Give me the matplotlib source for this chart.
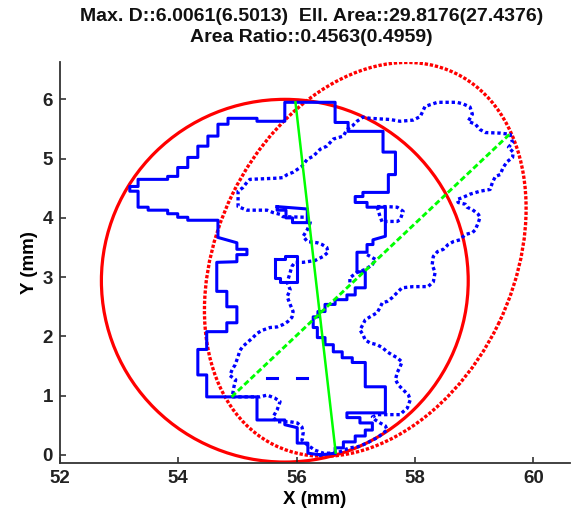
import matplotlib
matplotlib.use('Agg')
import matplotlib.pyplot as plt
from matplotlib.patches import Ellipse

plt.rcParams['font.family'] = ['Liberation Sans', 'DejaVu Sans']
plt.rcParams['font.weight'] = 'bold'

# outline of region 1 (solid), mm
c1_x = [56.40, 56.19, 56.19, 56.01, 56.01, 55.80, 55.80, 55.33, 55.33, 54.48,
        54.48, 54.33, 54.33, 54.48, 54.48, 54.82, 54.82, 54.99, 54.99, 54.82,
        54.82, 54.65, 54.65, 54.99, 54.99, 55.16, 55.16, 54.99, 54.99, 54.67,
        54.67, 54.16, 54.16, 53.99, 53.99, 53.82, 53.82, 53.49, 53.49, 53.32,
        53.32, 53.18, 53.18, 53.32, 53.32, 53.82, 53.82, 53.99, 53.99, 54.16,
        54.16, 54.33, 54.33, 54.50, 54.50, 54.67, 54.67, 54.84, 54.84, 55.33,
        55.33, 55.80, 55.80, 56.65, 56.65, 56.87, 56.87, 57.46, 57.46, 57.67,
        57.67, 57.55, 57.55, 57.12, 57.12, 56.99, 56.99, 57.19, 57.19, 57.50,
        57.50, 57.29, 57.29, 57.19, 57.19, 57.02, 57.02, 57.16, 57.16, 56.99,
        56.99, 56.85, 56.85, 56.65, 56.65, 56.48, 56.48, 56.36, 56.36, 56.28,
        56.28, 56.35, 56.35, 56.48, 56.48, 56.62, 56.62, 56.77, 56.77, 56.94,
        56.94, 57.16, 57.16, 57.50, 57.50, 56.85, 56.85, 57.07, 57.07, 57.28,
        57.28, 57.16, 57.16, 56.99, 56.99, 56.79, 56.79, 56.65, 56.65, 56.40]
c1_y = [0.00, 0.03, 0.20, 0.20, 0.46, 0.51, 0.59, 0.59, 0.98, 0.98,
        1.35, 1.35, 1.78, 1.78, 2.08, 2.08, 2.23, 2.23, 2.50, 2.50,
        2.76, 2.76, 3.25, 3.26, 3.38, 3.38, 3.47, 3.47, 3.58, 3.67,
        3.96, 3.96, 4.01, 4.01, 4.07, 4.07, 4.13, 4.13, 4.18, 4.18,
        4.45, 4.45, 4.53, 4.53, 4.65, 4.65, 4.70, 4.70, 4.85, 4.85,
        5.02, 5.02, 5.21, 5.21, 5.38, 5.38, 5.58, 5.58, 5.68, 5.68,
        5.63, 5.63, 5.95, 5.95, 5.61, 5.61, 5.46, 5.46, 5.11, 5.11,
        4.73, 4.73, 4.43, 4.43, 4.36, 4.36, 4.26, 4.26, 4.18, 4.18,
        3.69, 3.63, 3.55, 3.55, 3.42, 3.42, 3.09, 3.09, 2.82, 2.82,
        2.70, 2.70, 2.62, 2.62, 2.54, 2.54, 2.42, 2.42, 2.33, 2.33,
        2.15, 2.15, 1.98, 1.98, 1.86, 1.86, 1.74, 1.74, 1.64, 1.64,
        1.56, 1.56, 1.15, 1.15, 0.71, 0.71, 0.63, 0.63, 0.54, 0.54,
        0.42, 0.42, 0.32, 0.32, 0.22, 0.22, 0.12, 0.12, 0.03, 0.00]

# holes / small pieces of region 1
h1_x = [55.67, 56.18, 56.18, 55.93, 55.93, 55.82, 55.82, 55.67, 55.67]
h1_y = [4.19, 4.15, 3.92, 3.92, 4.00, 4.00, 4.13, 4.13, 4.19]
h2_x = [55.63, 55.80, 55.80, 56.01, 56.01, 55.72, 55.72, 55.63, 55.63]
h2_y = [3.30, 3.30, 3.35, 3.35, 2.91, 2.91, 2.99, 2.99, 3.30]
d1_x = [55.50, 55.67]
d2_x = [56.01, 56.18]
d_y = [1.30, 1.30]

# outline of region 2 (dotted), mm
c2_x = [54.91, 55.16, 55.38, 55.50, 55.63, 55.72, 55.67, 55.60, 55.67, 55.89,
        56.01, 56.09, 56.11, 56.09, 56.18, 56.31, 56.45, 56.68, 56.79, 56.90,
        57.04, 57.19, 57.28, 57.38, 57.46, 57.53, 57.50, 57.41, 57.33, 57.28,
        57.36, 57.75, 57.80, 57.87, 57.92, 57.89, 57.83, 57.72, 57.67, 57.70,
        57.75, 57.78, 57.70, 57.61, 57.53, 57.45, 57.36, 57.24, 57.16, 57.12,
        57.07, 57.12, 57.16, 57.24, 57.36, 57.41, 57.45, 57.53, 57.61, 57.70,
        57.78, 57.97, 58.22, 58.31, 58.34, 58.29, 58.31, 58.38, 58.48, 58.56,
        58.65, 58.76, 58.85, 58.97, 59.02, 59.07, 59.10, 59.07, 58.97, 58.88,
        58.85, 58.73, 58.71, 58.80, 58.93, 59.10, 59.27, 59.31, 59.36, 59.44,
        59.49, 59.56, 59.65, 59.66, 59.58, 59.65, 59.61, 59.44, 59.19, 59.10,
        59.02, 58.90, 58.97, 58.93, 58.82, 58.71, 58.38, 58.17, 58.09, 57.97,
        57.75, 57.58, 57.24, 57.12, 57.02, 56.94, 56.85, 56.79, 56.62, 56.51,
        56.40, 56.28, 56.18, 56.09, 55.94, 55.84, 55.77, 55.67, 55.21, 55.16,
        55.09, 55.01, 55.01, 55.16, 55.50, 55.60, 55.72, 55.77, 56.18, 56.23,
        56.18, 56.11, 56.18, 56.35, 56.43, 56.51, 56.53, 56.45, 56.31, 56.11,
        55.97, 55.92, 55.89, 55.84, 55.89, 55.84, 55.89, 55.94, 55.92, 55.85,
        55.77, 55.67, 55.55, 55.41, 55.33, 55.26, 55.18, 55.09, 55.04, 55.01,
        54.96, 54.91, 54.87, 54.97, 54.94, 54.91]
c2_y = [0.98, 0.98, 0.98, 1.01, 0.96, 0.90, 0.76, 0.64, 0.56, 0.56,
        0.54, 0.47, 0.37, 0.25, 0.17, 0.08, 0.03, 0.03, 0.08, 0.12,
        0.14, 0.20, 0.25, 0.30, 0.37, 0.42, 0.49, 0.54, 0.59, 0.64,
        0.68, 0.68, 0.73, 0.79, 0.93, 1.01, 1.07, 1.18, 1.27, 1.39,
        1.49, 1.57, 1.64, 1.69, 1.74, 1.81, 1.86, 1.89, 1.94, 2.03,
        2.11, 2.20, 2.28, 2.33, 2.40, 2.49, 2.57, 2.59, 2.65, 2.74,
        2.82, 2.84, 2.84, 2.92, 3.08, 3.21, 3.35, 3.43, 3.47, 3.55,
        3.60, 3.63, 3.72, 3.75, 3.80, 3.92, 4.01, 4.06, 4.14, 4.18,
        4.23, 4.26, 4.31, 4.34, 4.40, 4.45, 4.48, 4.60, 4.70, 4.73,
        4.85, 4.95, 5.02, 5.11, 5.19, 5.27, 5.41, 5.43, 5.44, 5.49,
        5.58, 5.63, 5.75, 5.87, 5.92, 5.95, 5.95, 5.88, 5.71, 5.65,
        5.63, 5.66, 5.68, 5.70, 5.63, 5.55, 5.49, 5.38, 5.33, 5.21,
        5.16, 5.04, 4.99, 4.87, 4.77, 4.73, 4.68, 4.67, 4.65, 4.60,
        4.51, 4.45, 4.19, 4.13, 4.13, 4.09, 4.06, 4.02, 4.01, 3.92,
        3.80, 3.69, 3.60, 3.58, 3.55, 3.50, 3.42, 3.35, 3.28, 3.25,
        3.25, 3.18, 3.08, 2.91, 2.79, 2.67, 2.54, 2.42, 2.32, 2.25,
        2.20, 2.16, 2.15, 2.10, 2.05, 1.98, 1.91, 1.83, 1.76, 1.66,
        1.52, 1.44, 1.34, 1.27, 1.15, 0.98]

h3_x = [57.36, 57.53, 57.70, 57.80, 57.75, 57.70, 57.53, 57.45, 57.41, 57.36]
h3_y = [4.19, 4.19, 4.18, 4.11, 3.97, 3.94, 3.94, 3.92, 4.02, 4.19]
p3_x = [57.19, 57.33, 57.28, 57.16, 57.02, 56.90, 56.90]
p3_y = [3.38, 3.30, 3.21, 3.13, 3.08, 2.99, 2.87]

# fitted ellipses: center x, center y, width, height, angle (deg)
ell1 = (55.80, 2.94, 6.20, 6.12, 0.0)
ell2 = (57.16, 3.30, 6.98, 5.00, 64.0)

# max diameter segments
md1_x = [55.98, 56.66]
md1_y = [5.95, 0.04]
md2_x = [54.90, 59.63]
md2_y = [0.98, 5.44]

title = 'Max. D::6.0061(6.5013)  Ell. Area::29.8176(27.4376)\nArea Ratio::0.4563(0.4959)'

fig = plt.figure(figsize=(5.74, 5.15), dpi=100)
ax = fig.add_axes([0.1045, 0.1005, 0.8885, 0.7791])

blue = (0, 0, 1)
dots = (0, (1.0, 0.85))

ax.plot(c1_x, c1_y, color=blue, lw=2.2)
ax.plot(h1_x, h1_y, color=blue, lw=2.2)
ax.plot(h2_x, h2_y, color=blue, lw=2.2)
ax.plot(d1_x, d_y, color=blue, lw=2.2)
ax.plot(d2_x, d_y, color=blue, lw=2.2)

ax.plot(c2_x, c2_y, color=blue, lw=2.4, ls=dots)
ax.plot(h3_x, h3_y, color=blue, lw=2.4, ls=dots)
ax.plot(p3_x, p3_y, color=blue, lw=2.4, ls=dots)

e1 = Ellipse(ell1[:2], ell1[2], ell1[3], angle=ell1[4], fill=False,
             color='red', lw=2.3)
e2 = Ellipse(ell2[:2], ell2[2], ell2[3], angle=ell2[4], fill=False,
             color='red', lw=2.4, ls=(0, (1.0, 0.55)))
ax.add_patch(e1)
ax.add_patch(e2)

ax.plot(md1_x, md1_y, color=(0, 1, 0), lw=1.8)
ax.plot(md2_x, md2_y, color=(0, 1, 0), lw=2.1, ls=(0, (2, 1)))

ax.set_xlim(52, 60.62)
ax.set_ylim(-0.14, 6.63)
ax.set_xticks([52, 54, 56, 58, 60])
ax.set_yticks([0, 1, 2, 3, 4, 5, 6])
ax.tick_params(direction='in', length=4, width=1.1, labelsize=13.5,
               colors='#222222', pad=5)
for s in ['top', 'right']:
    ax.spines[s].set_visible(False)
for s in ['left', 'bottom']:
    ax.spines[s].set_linewidth(1.3)
    ax.spines[s].set_color('#333333')

ax.set_xlabel('X (mm)', fontsize=13.5, fontweight='bold', labelpad=3)
ax.set_ylabel('Y (mm)', fontsize=13.5, fontweight='bold', labelpad=3)
fig.text(0.543, 0.948, title, ha='center', va='center', fontsize=14,
         fontweight='bold', linespacing=1.3, color='#111111')

plt.savefig('out.png', dpi=100)
